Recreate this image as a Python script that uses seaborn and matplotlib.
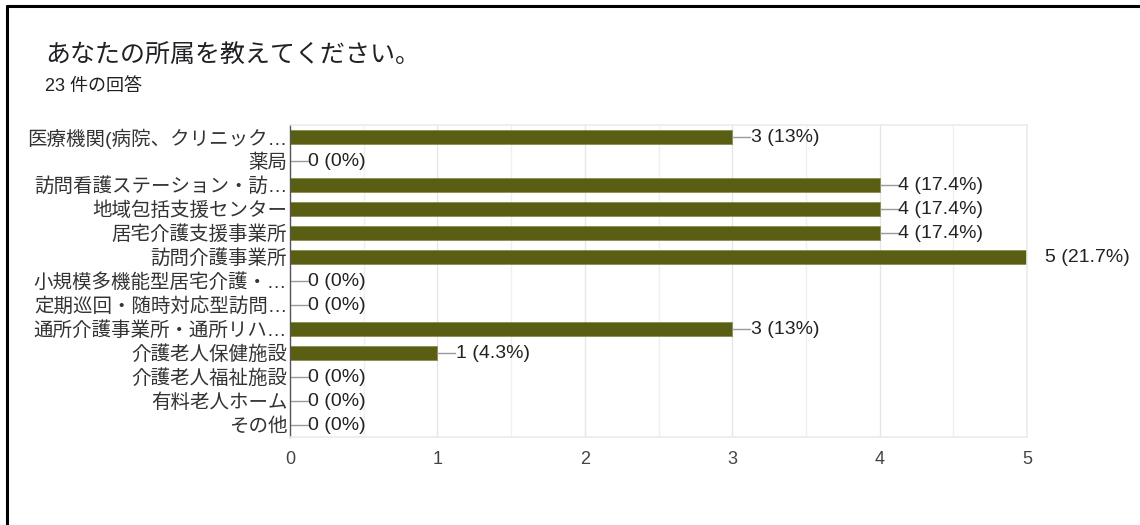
import matplotlib
matplotlib.use("Agg")
import matplotlib.pyplot as plt
import seaborn as sns
import pandas as pd
from matplotlib.lines import Line2D

categories = [
    "医療機関(病院、クリニック…",
    "薬局",
    "訪問看護ステーション・訪…",
    "地域包括支援センター",
    "居宅介護支援事業所",
    "訪問介護事業所",
    "小規模多機能型居宅介護・…",
    "定期巡回・随時対応型訪問…",
    "通所介護事業所・通所リハ…",
    "介護老人保健施設",
    "介護老人福祉施設",
    "有料老人ホーム",
    "その他",
]
counts = [3, 0, 4, 4, 4, 5, 0, 0, 3, 1, 0, 0, 0]
percent_labels = ["13%", "0%", "17.4%", "17.4%", "17.4%", "21.7%", "0%", "0%",
                  "13%", "4.3%", "0%", "0%", "0%"]
x_ticks = [0, 1, 2, 3, 4, 5]

title = "あなたの所属を教えてください。"
subtitle = "23 件の回答"

sns.set_theme(style="white")
plt.rcParams["font.family"] = ["Noto Sans CJK JP", "DejaVu Sans"]
latin_cjk = ["Liberation Sans", "Noto Sans CJK JP"]

df = pd.DataFrame({"category": categories, "count": counts})

W, H = 1140, 525
fig = plt.figure(figsize=(W / 100, H / 100), dpi=100)
ax = fig.add_axes([290 / W, 1 - 437 / H, (1027 - 290) / W, (437 - 125) / H])

bar_color = "#5a5e12"
sns.barplot(data=df, x="count", y="category", orient="h", color=bar_color,
            width=0.62, saturation=1, edgecolor="#8a8d50", linewidth=0.6, ax=ax)

ax.set_xlim(0, 5)
ax.set_ylim(len(categories) - 0.5, -0.5)

# light vertical grid: stronger at integers, fainter at halves
for v in [i * 0.5 for i in range(1, 10)]:
    ax.axvline(v, color="#e6e6e6" if v == int(v) else "#f0f0f0", lw=1.0, zorder=0)

for side in ["top", "right", "bottom"]:
    ax.spines[side].set_color("#ebebeb")
    ax.spines[side].set_linewidth(1.2)
ax.spines["left"].set_color("#555555")
ax.spines["left"].set_linewidth(1.0)

ax.set_xticks(x_ticks)
ax.set_xticklabels([str(t) for t in x_ticks], fontsize=13, color="#444444",
                   family=["Liberation Sans", "DejaVu Sans"])
ax.tick_params(axis="x", length=0, pad=10)
ax.tick_params(axis="y", length=0, pad=2)
ax.set_yticks(range(len(categories)))
ax.set_yticklabels(categories, fontsize=14, color="#333333", family=latin_cjk)
ax.set_xlabel("")
ax.set_ylabel("")

# value annotations with short leader lines
px_per_unit = (1027 - 290) / 5
lead = 18 / px_per_unit
for i, (c, p) in enumerate(zip(counts, percent_labels)):
    ax.add_line(Line2D([c, c + lead], [i, i], color="#999999", lw=1.0, clip_on=True))
    ax.text(c + lead + 0.003, i, f"{c} ({p})", va="center", ha="left",
            fontsize=14, color="#222222", clip_on=False,
            family=["Liberation Sans", "DejaVu Sans"])

fig.text(45 / W, 1 - 55 / H, title, fontsize=18, color="#202124", va="center")
fig.text(45 / W, 1 - 87 / H, subtitle, fontsize=13, color="#202124", va="center",
         family=latin_cjk)

# outer frame on the left and top edges
fig.add_artist(Line2D([6.5 / W, 6.5 / W], [0, 1 - 5.5 / H],
                      transform=fig.transFigure, color="black", lw=2.2))
fig.add_artist(Line2D([6.5 / W, 1], [1 - 5.5 / H, 1 - 5.5 / H],
                      transform=fig.transFigure, color="black", lw=2.2))

fig.savefig("out.png", dpi=100, facecolor="white")
